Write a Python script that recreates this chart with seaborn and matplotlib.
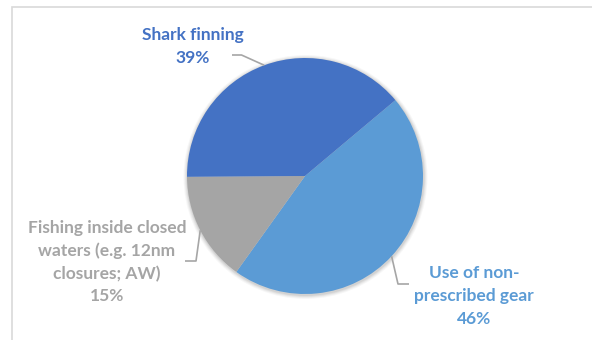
import matplotlib
matplotlib.use("Agg")
import matplotlib.pyplot as plt
import seaborn as sns
import numpy as np
from matplotlib.patches import Rectangle, Circle

# ---- data ----
categories = ["Use of non-\nprescribed gear",
              "Fishing inside closed\nwaters (e.g. 12nm\nclosures; AW)",
              "Shark finning"]
values = [46, 15, 39]
colors = ["#5B9BD5", "#A5A5A5", "#4472C4"]

sns.set_theme(style="white")
plt.rcParams['font.family'] = ['Lato', 'DejaVu Sans']

W, H = 592, 340
fig = plt.figure(figsize=(W / 100, H / 100), dpi=100)
ax = fig.add_axes([0, 0, 1, 1])

cx, cy, r = 305, H - 176, 118

# soft shadow
for k, a in [(4, 0.03), (3, 0.04), (2, 0.05), (1, 0.06)]:
    ax.add_patch(Circle((cx + 0.5, cy - 1), r + k, color="#000000", alpha=a, lw=0, zorder=0))

wedges, _ = ax.pie(values, colors=colors, startangle=40, counterclock=False,
                   center=(cx, cy), radius=r,
                   wedgeprops=dict(linewidth=0, zorder=1))
ax.set_xlim(0, W)
ax.set_ylim(0, H)
ax.set_aspect('equal')
ax.axis('off')

# chart-area border
ax.add_patch(Rectangle((12, -20), 800, H - 7 + 20, fill=False,
                       edgecolor="#D9D9D9", lw=1.2, zorder=0))

# label layout (image px): text centre, leader elbow, leader end
layout = [
    dict(text=(474, 296), elbow=(398, 284), end=(409, 284)),
    dict(text=(107, 262), elbow=(196, 261), end=(185, 261)),
    dict(text=(193, 46.5), elbow=(241.5, 55), end=(232, 55)),
]

for w, cat, v, col, lay in zip(wedges, categories, values, colors, layout):
    mid = np.deg2rad((w.theta1 + w.theta2) / 2)
    ex, ey = cx + r * np.cos(mid), cy + r * np.sin(mid)
    bx, by = lay["elbow"]
    tx, ty = lay["end"]
    ax.plot([ex, bx, tx], [ey, H - by, H - ty], color="#A6A6A6", lw=1.2,
            solid_capstyle="butt", zorder=2)
    x, y = lay["text"]
    ax.text(x, H - y, f"{cat}\n{v}%", ha="center", va="center",
            color=col, fontsize=12.5, fontweight="bold", linespacing=1.5)

fig.savefig("out.png", dpi=100)
